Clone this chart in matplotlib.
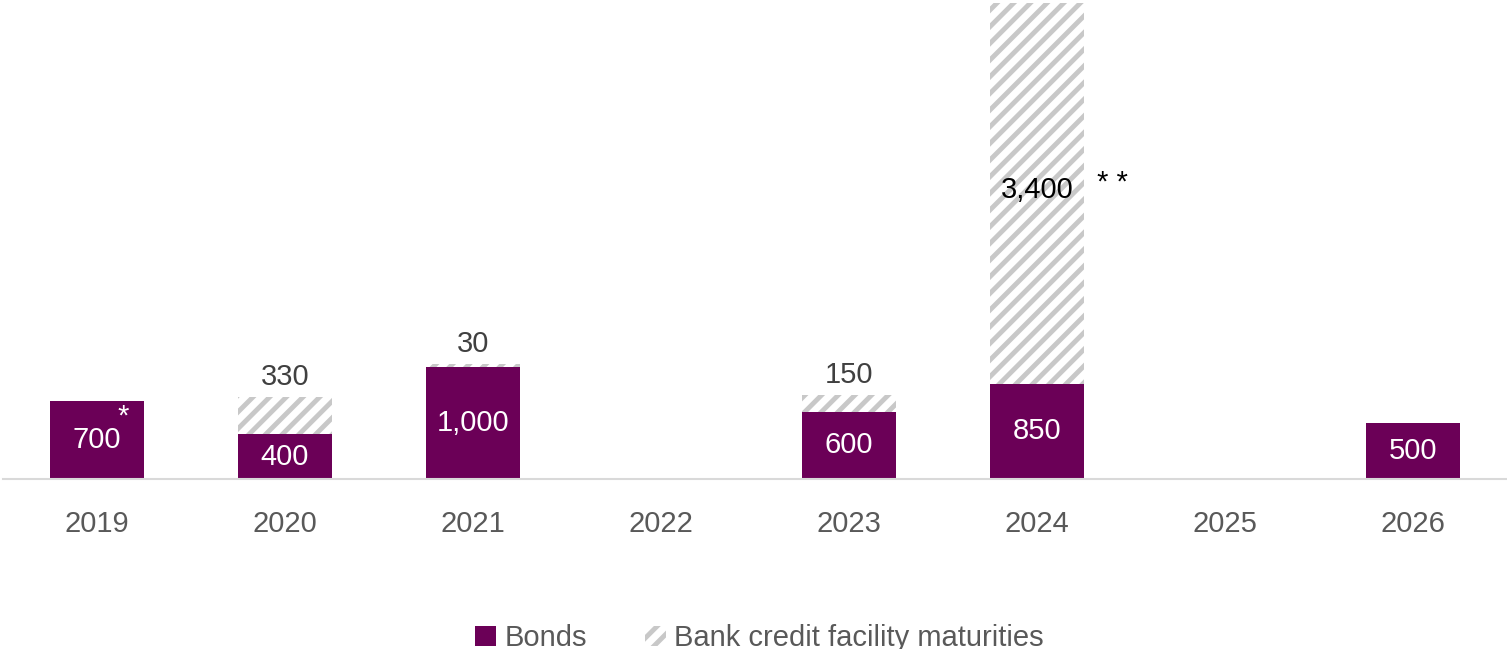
import numpy as np
import matplotlib.pyplot as plt
import matplotlib as mpl

years = ["2019", "2020", "2021", "2022", "2023", "2024", "2025", "2026"]
bonds = [700, 400, 1000, 0, 600, 850, 0, 500]
bank = [0, 330, 30, 0, 150, 3400, 0, 0]

bond_labels = ["700", "400", "1,000", "", "600", "850", "", "500"]
bank_labels = ["", "330", "30", "", "150", "3,400", "", ""]

purple = "#6b0057"
hatch_grey = "#c8c8c8"
text_grey = "#595959"

plt.rcParams['font.family'] = ['Liberation Sans Narrow', 'Liberation Sans', 'DejaVu Sans']
mpl.rcParams['hatch.linewidth'] = 3.5
mpl.rcParams['hatch.color'] = hatch_grey

fig = plt.figure(figsize=(15.07, 6.49), dpi=100)
ax = fig.add_axes([0.002, 0.262, 0.998, 0.733])

x = np.arange(len(years))
w = 0.505
ax.bar(x, bonds, w, color=purple, label="Bonds", zorder=2)
ax.bar(x, bank, w, bottom=bonds, color="white", hatch="//", edgecolor=hatch_grey,
       linewidth=0, label="Bank credit facility maturities", zorder=2)

fs = 21
for i in range(len(years)):
    if bond_labels[i]:
        ax.text(x[i], bonds[i] / 2, bond_labels[i], ha="center", va="center",
                color="white", fontsize=fs, zorder=3)
    if bank_labels[i]:
        if bank[i] > 1000:
            ax.text(x[i], 2580, bank_labels[i], ha="center",
                    va="center", color="black", fontsize=fs, zorder=3)
        else:
            ax.text(x[i], bonds[i] + bank[i] + 180, bank_labels[i], ha="center",
                    va="center", color="#404040", fontsize=fs, zorder=3)

# footnote markers
ax.text(x[0] + 0.14, 560, "*", ha="center", va="center", color="white", fontsize=fs, zorder=3)
ax.text(x[5] + 0.40, 2640, "* *", ha="center", va="center", color="black", fontsize=fs, zorder=3)

ax.set_xlim(-0.5, len(years) - 0.5)
ax.set_ylim(0, 4250)
ax.set_xticks(x)
ax.set_xticklabels(years, fontsize=fs, color=text_grey)
ax.tick_params(axis="x", length=0, pad=22)
ax.set_yticks([])
for s in ["top", "left", "right"]:
    ax.spines[s].set_visible(False)
ax.spines["bottom"].set_color("#d9d9d9")
ax.spines["bottom"].set_linewidth(1.5)

leg = fig.legend(loc="lower center", bbox_to_anchor=(0.504, -0.045), ncol=2, frameon=False,
                 fontsize=fs, handlelength=0.7, handleheight=0.7, handletextpad=0.3,
                 columnspacing=2.0)
for t in leg.get_texts():
    t.set_color(text_grey)

fig.savefig("out.png", dpi=100)
